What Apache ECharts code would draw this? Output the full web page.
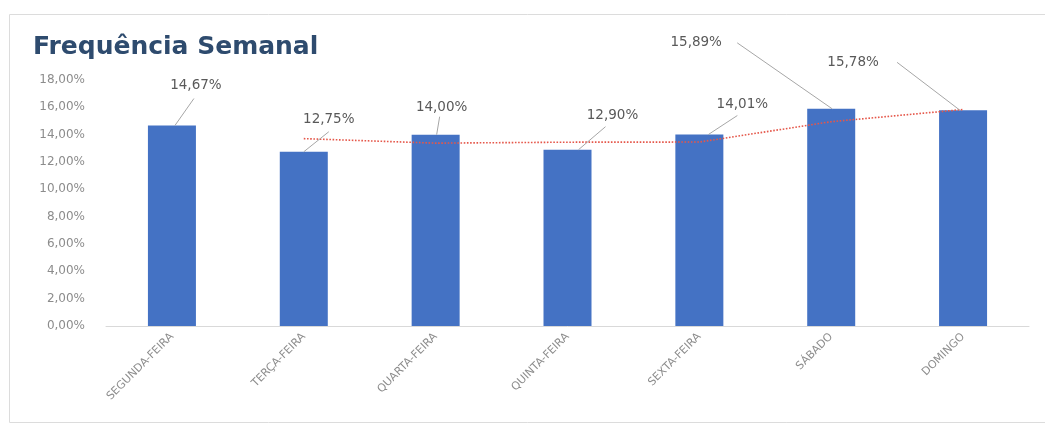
<!DOCTYPE html>
<html>
<head>
<meta charset="utf-8">
<script src="https://cdn.jsdelivr.net/npm/echarts@6/dist/echarts.min.js"></script>
<style>
html,body{margin:0;padding:0;background:#fff;}
#chart{width:1045px;height:430px;}
</style>
</head>
<body>
<div id="chart"></div>
<script>
var categories = ['SEGUNDA-FEIRA', 'TERÇA-FEIRA', 'QUARTA-FEIRA', 'QUINTA-FEIRA', 'SEXTA-FEIRA', 'SÁBADO', 'DOMINGO'];
var frequencia = [14.67, 12.75, 14.00, 12.90, 14.01, 15.89, 15.78];
var mediaMovel = [null, 13.71, 13.38, 13.45, 13.46, 14.95, 15.84];
var yTicks = [0, 2, 4, 6, 8, 10, 12, 14, 16, 18];

// callout placement relative to bar-top point: [labelDx, labelDy, lineStartDx, lineEndDx, lineEndDy]
var callouts = [
  [24, -40, 3, 22, -27],
  [25, -32, 0, 25, -20],
  [6, -27, 1, 4, -18],
  [45, -34, 11, 38, -23],
  [43, -30, 9, 38, -19],
  [-135, -66, 1, -94, -66],
  [-110, -48, -3, -66, -48]
];

function pct(v) { return v.toFixed(2).replace('.', ',') + '%'; }

var chart = echarts.init(document.getElementById('chart'));
chart.setOption({
  animation: false,
  title: {
    text: 'Frequência Semanal',
    left: 28, top: 30,
    textStyle: { fontFamily: 'DejaVu Sans', fontWeight: 'bold', fontSize: 25, color: '#2E4B6E' }
  },
  graphic: [{
    type: 'rect', left: 7, top: 12,
    shape: { width: 1045, height: 408 },
    style: { fill: 'none', stroke: '#dcdcdc', lineWidth: 1 },
    silent: true
  }],
  grid: { left: 106, right: 16, top: 80, bottom: 104, containLabel: false },
  xAxis: {
    type: 'category',
    data: categories,
    axisLine: { lineStyle: { color: '#d9d9d9' } },
    axisTick: { show: false },
    axisLabel: { rotate: 45, interval: 0, margin: 9, color: '#8c8c8c', fontSize: 11, fontFamily: 'DejaVu Sans' }
  },
  yAxis: {
    type: 'value',
    min: yTicks[0], max: yTicks[yTicks.length - 1], interval: 2,
    axisLine: { show: false },
    axisTick: { show: false },
    splitLine: { show: false },
    axisLabel: { formatter: pct, color: '#8c8c8c', fontSize: 12, fontFamily: 'DejaVu Sans', margin: 21 }
  },
  series: [{
    type: 'bar',
    data: frequencia,
    barWidth: 48,
    itemStyle: { color: '#4472C4' },
    z: 2
  }, {
    type: 'line',
    data: mediaMovel,
    symbol: 'none',
    lineStyle: { color: '#E5574A', width: 1.6, type: 'dotted' },
    z: 3
  }, {
    type: 'custom',
    data: frequencia.map(function (v, i) { return [i, v]; }),
    z: 4,
    silent: true,
    renderItem: function (params, api) {
      var i = params.dataIndex;
      var v = api.value(1);
      var p = api.coord([api.value(0), v]);
      var c = callouts[i];
      return {
        type: 'group',
        children: [{
          type: 'line',
          shape: { x1: p[0] + c[2], y1: p[1], x2: p[0] + c[3], y2: p[1] + c[4] },
          style: { stroke: '#a6a6a6', lineWidth: 1 }
        }, {
          type: 'text',
          x: p[0] + c[0], y: p[1] + c[1],
          style: {
            text: pct(v), fill: '#595959', fontSize: 13.5, fontFamily: 'DejaVu Sans',
            align: 'center', verticalAlign: 'middle'
          }
        }]
      };
    }
  }]
});
</script>
</body>
</html>
